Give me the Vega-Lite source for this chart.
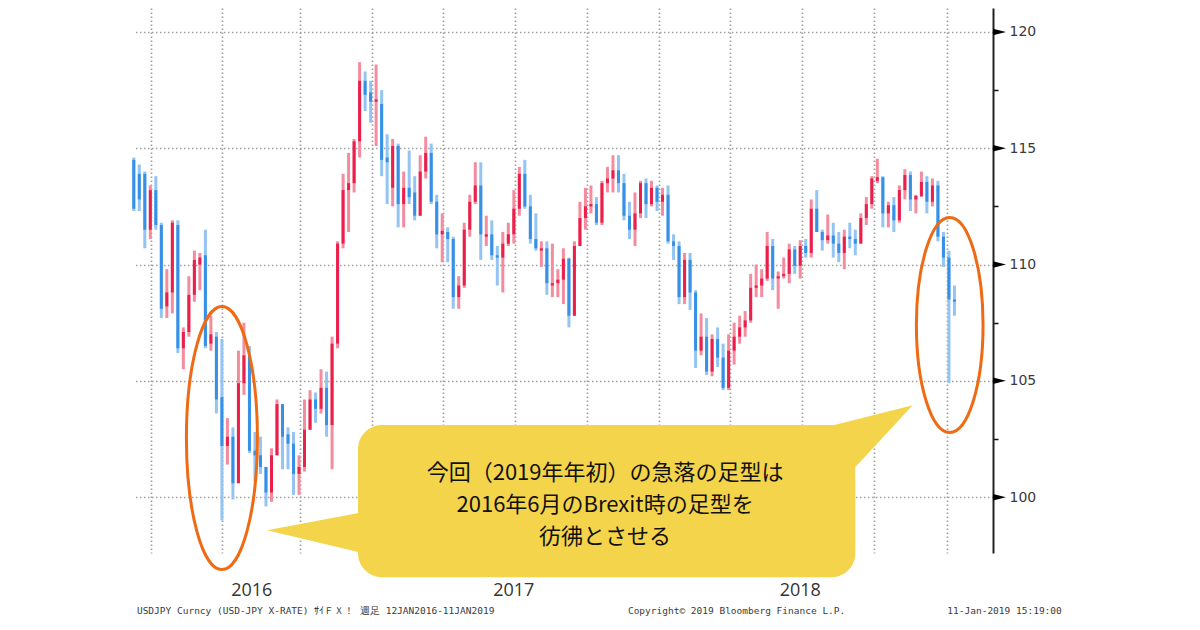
{
  "$schema": "https://vega.github.io/schema/vega-lite/v6.json",
  "width": 860,
  "height": 545,
  "autosize": {"type": "none"},
  "padding": {"left": 133, "top": 8, "right": 207, "bottom": 77},
  "background": "white",
  "config": {"view": {"stroke": null}, "font": "DejaVu Sans"},
  "datasets": {
    "fx": [
      {"d":"2016-03-04","o":114.5,"h":114.6,"l":112.3,"c":112.4},
      {"d":"2016-03-11","o":113.9,"h":114.3,"l":112.3,"c":112.8},
      {"d":"2016-03-18","o":113.9,"h":114.0,"l":110.7,"c":111.5},
      {"d":"2016-03-25","o":111.5,"h":113.4,"l":111.1,"c":113.2},
      {"d":"2016-04-01","o":113.2,"h":113.8,"l":111.5,"c":111.7},
      {"d":"2016-04-08","o":111.7,"h":111.8,"l":107.7,"c":108.1},
      {"d":"2016-04-15","o":108.2,"h":109.8,"l":107.7,"c":108.8},
      {"d":"2016-04-22","o":108.8,"h":111.9,"l":107.9,"c":111.8},
      {"d":"2016-04-29","o":111.7,"h":111.9,"l":106.2,"c":106.4},
      {"d":"2016-05-06","o":106.4,"h":107.3,"l":105.5,"c":107.1},
      {"d":"2016-05-13","o":107.1,"h":109.5,"l":106.9,"c":108.7},
      {"d":"2016-05-20","o":108.7,"h":110.6,"l":108.4,"c":110.2},
      {"d":"2016-05-27","o":110.0,"h":110.5,"l":108.9,"c":110.3},
      {"d":"2016-06-03","o":110.4,"h":111.5,"l":106.4,"c":106.5},
      {"d":"2016-06-10","o":106.6,"h":107.8,"l":106.3,"c":107.0},
      {"d":"2016-06-17","o":106.9,"h":107.1,"l":103.6,"c":104.2},
      {"d":"2016-06-24","o":104.3,"h":106.8,"l":99.0,"c":102.2},
      {"d":"2016-07-01","o":102.2,"h":103.4,"l":101.4,"c":102.6},
      {"d":"2016-07-08","o":102.6,"h":103.0,"l":99.9,"c":100.6},
      {"d":"2016-07-15","o":100.6,"h":106.3,"l":100.6,"c":104.9},
      {"d":"2016-07-22","o":104.9,"h":107.5,"l":104.4,"c":106.1},
      {"d":"2016-07-29","o":106.1,"h":106.5,"l":101.9,"c":102.0},
      {"d":"2016-08-05","o":102.0,"h":102.8,"l":100.7,"c":101.8},
      {"d":"2016-08-12","o":101.8,"h":102.6,"l":101.0,"c":101.3},
      {"d":"2016-08-19","o":101.3,"h":101.3,"l":99.6,"c":100.2},
      {"d":"2016-08-26","o":100.2,"h":102.1,"l":99.8,"c":101.8},
      {"d":"2016-09-02","o":101.8,"h":104.2,"l":101.8,"c":104.0},
      {"d":"2016-09-09","o":104.0,"h":104.0,"l":101.2,"c":102.6},
      {"d":"2016-09-16","o":102.7,"h":103.0,"l":101.2,"c":102.3},
      {"d":"2016-09-23","o":102.3,"h":102.8,"l":100.1,"c":101.0},
      {"d":"2016-09-30","o":101.0,"h":101.8,"l":100.1,"c":101.3},
      {"d":"2016-10-07","o":101.3,"h":104.2,"l":101.1,"c":102.9},
      {"d":"2016-10-14","o":102.9,"h":104.6,"l":102.9,"c":104.2},
      {"d":"2016-10-21","o":104.2,"h":104.5,"l":103.2,"c":103.8},
      {"d":"2016-10-28","o":103.8,"h":105.5,"l":103.6,"c":104.7},
      {"d":"2016-11-04","o":104.7,"h":105.4,"l":102.6,"c":103.1},
      {"d":"2016-11-11","o":103.1,"h":106.9,"l":101.2,"c":106.6},
      {"d":"2016-11-18","o":106.6,"h":111.0,"l":106.4,"c":110.9},
      {"d":"2016-11-25","o":110.9,"h":113.9,"l":110.7,"c":113.2},
      {"d":"2016-12-02","o":113.2,"h":114.8,"l":111.4,"c":113.5},
      {"d":"2016-12-09","o":113.5,"h":115.4,"l":113.1,"c":115.3},
      {"d":"2016-12-16","o":115.3,"h":118.7,"l":114.6,"c":117.9},
      {"d":"2016-12-23","o":117.9,"h":118.3,"l":116.6,"c":117.3},
      {"d":"2016-12-30","o":117.4,"h":117.9,"l":116.1,"c":117.0},
      {"d":"2017-01-06","o":117.0,"h":118.6,"l":115.1,"c":117.1},
      {"d":"2017-01-13","o":116.9,"h":117.5,"l":113.8,"c":114.5},
      {"d":"2017-01-20","o":114.6,"h":115.6,"l":112.6,"c":114.4},
      {"d":"2017-01-27","o":113.3,"h":115.4,"l":112.5,"c":115.1},
      {"d":"2017-02-03","o":115.1,"h":115.2,"l":111.6,"c":112.6},
      {"d":"2017-02-10","o":112.6,"h":114.0,"l":111.6,"c":113.3},
      {"d":"2017-02-17","o":113.3,"h":114.9,"l":112.6,"c":112.9},
      {"d":"2017-02-24","o":113.1,"h":113.8,"l":111.9,"c":112.1},
      {"d":"2017-03-03","o":112.1,"h":114.7,"l":112.1,"c":114.0},
      {"d":"2017-03-10","o":114.0,"h":115.5,"l":113.7,"c":114.8},
      {"d":"2017-03-17","o":114.8,"h":115.2,"l":112.6,"c":112.7},
      {"d":"2017-03-24","o":112.7,"h":113.0,"l":110.7,"c":111.3},
      {"d":"2017-03-31","o":111.3,"h":112.2,"l":110.1,"c":111.45},
      {"d":"2017-04-07","o":111.4,"h":111.6,"l":110.1,"c":111.1},
      {"d":"2017-04-14","o":111.1,"h":111.2,"l":108.1,"c":108.6},
      {"d":"2017-04-21","o":108.6,"h":109.5,"l":108.1,"c":109.1},
      {"d":"2017-04-28","o":109.1,"h":111.8,"l":109.0,"c":111.5},
      {"d":"2017-05-05","o":111.5,"h":113.0,"l":111.2,"c":112.7},
      {"d":"2017-05-12","o":112.7,"h":114.4,"l":112.6,"c":113.4},
      {"d":"2017-05-19","o":113.4,"h":114.4,"l":110.2,"c":111.3},
      {"d":"2017-05-26","o":111.2,"h":112.1,"l":110.8,"c":111.3},
      {"d":"2017-06-02","o":111.3,"h":111.9,"l":110.2,"c":110.4},
      {"d":"2017-06-09","o":110.4,"h":110.8,"l":109.1,"c":110.3},
      {"d":"2017-06-16","o":110.3,"h":111.4,"l":108.8,"c":110.9},
      {"d":"2017-06-23","o":110.9,"h":111.8,"l":110.8,"c":111.3},
      {"d":"2017-06-30","o":111.3,"h":113.2,"l":110.9,"c":112.4},
      {"d":"2017-07-07","o":112.4,"h":114.2,"l":112.1,"c":113.9},
      {"d":"2017-07-14","o":113.9,"h":114.5,"l":112.4,"c":112.5},
      {"d":"2017-07-21","o":112.5,"h":113.0,"l":110.9,"c":111.1},
      {"d":"2017-07-28","o":111.1,"h":112.2,"l":110.6,"c":110.7},
      {"d":"2017-08-04","o":110.6,"h":111.0,"l":109.9,"c":110.7},
      {"d":"2017-08-11","o":110.7,"h":111.0,"l":108.7,"c":109.2},
      {"d":"2017-08-18","o":109.1,"h":110.9,"l":108.6,"c":109.2},
      {"d":"2017-08-25","o":109.2,"h":109.8,"l":108.6,"c":109.35},
      {"d":"2017-09-01","o":109.35,"h":110.7,"l":108.3,"c":110.25},
      {"d":"2017-09-08","o":110.25,"h":110.3,"l":107.3,"c":107.8},
      {"d":"2017-09-15","o":107.8,"h":111.0,"l":107.8,"c":110.8},
      {"d":"2017-09-22","o":110.8,"h":112.7,"l":110.8,"c":112.0},
      {"d":"2017-09-29","o":112.0,"h":113.3,"l":111.5,"c":112.5},
      {"d":"2017-10-06","o":112.5,"h":113.4,"l":112.2,"c":112.6},
      {"d":"2017-10-13","o":112.6,"h":112.9,"l":111.7,"c":111.8},
      {"d":"2017-10-20","o":111.8,"h":113.6,"l":111.7,"c":113.5},
      {"d":"2017-10-27","o":113.5,"h":114.2,"l":113.1,"c":113.7},
      {"d":"2017-11-03","o":113.7,"h":114.7,"l":113.1,"c":114.05},
      {"d":"2017-11-10","o":114.05,"h":114.7,"l":113.1,"c":113.5},
      {"d":"2017-11-17","o":113.5,"h":113.9,"l":111.9,"c":112.1},
      {"d":"2017-11-24","o":112.1,"h":112.7,"l":111.1,"c":111.5},
      {"d":"2017-12-01","o":111.5,"h":113.1,"l":110.8,"c":112.2},
      {"d":"2017-12-08","o":112.2,"h":113.6,"l":112.0,"c":113.5},
      {"d":"2017-12-15","o":113.5,"h":113.7,"l":112.0,"c":112.6},
      {"d":"2017-12-22","o":112.6,"h":113.6,"l":112.5,"c":113.3},
      {"d":"2017-12-29","o":113.3,"h":113.4,"l":112.3,"c":112.7},
      {"d":"2018-01-05","o":112.7,"h":113.3,"l":112.1,"c":113.0},
      {"d":"2018-01-12","o":113.0,"h":113.4,"l":110.9,"c":111.0},
      {"d":"2018-01-19","o":111.0,"h":111.3,"l":110.2,"c":110.8},
      {"d":"2018-01-26","o":110.8,"h":111.0,"l":108.3,"c":108.6},
      {"d":"2018-02-02","o":108.6,"h":110.5,"l":108.3,"c":110.2},
      {"d":"2018-02-09","o":110.2,"h":110.5,"l":108.05,"c":108.8},
      {"d":"2018-02-16","o":108.8,"h":108.9,"l":105.55,"c":106.3},
      {"d":"2018-02-23","o":106.3,"h":107.9,"l":106.1,"c":106.9},
      {"d":"2018-03-02","o":106.9,"h":107.7,"l":105.25,"c":105.4},
      {"d":"2018-03-09","o":105.4,"h":107.0,"l":105.2,"c":106.8},
      {"d":"2018-03-16","o":106.8,"h":107.3,"l":105.6,"c":106.0},
      {"d":"2018-03-23","o":106.0,"h":106.6,"l":104.6,"c":104.7},
      {"d":"2018-03-30","o":104.7,"h":107.0,"l":104.6,"c":106.3},
      {"d":"2018-04-06","o":106.3,"h":107.5,"l":105.7,"c":106.9},
      {"d":"2018-04-13","o":106.9,"h":107.8,"l":106.6,"c":107.3},
      {"d":"2018-04-20","o":107.3,"h":108.0,"l":106.9,"c":107.6},
      {"d":"2018-04-27","o":107.6,"h":109.6,"l":107.5,"c":109.0},
      {"d":"2018-05-04","o":109.0,"h":110.0,"l":108.6,"c":109.1},
      {"d":"2018-05-11","o":109.1,"h":109.8,"l":108.6,"c":109.4},
      {"d":"2018-05-18","o":109.4,"h":111.4,"l":109.3,"c":110.8},
      {"d":"2018-05-25","o":110.8,"h":111.1,"l":108.9,"c":109.4},
      {"d":"2018-06-01","o":109.4,"h":109.7,"l":108.1,"c":109.5},
      {"d":"2018-06-08","o":109.5,"h":110.3,"l":109.4,"c":109.6},
      {"d":"2018-06-15","o":109.6,"h":110.9,"l":109.2,"c":110.65},
      {"d":"2018-06-22","o":110.65,"h":110.8,"l":109.6,"c":109.95},
      {"d":"2018-06-29","o":109.95,"h":111.05,"l":109.4,"c":110.8},
      {"d":"2018-07-06","o":110.8,"h":111.1,"l":110.3,"c":110.5},
      {"d":"2018-07-13","o":110.5,"h":112.8,"l":110.3,"c":112.4},
      {"d":"2018-07-20","o":112.4,"h":113.2,"l":111.4,"c":111.4},
      {"d":"2018-07-27","o":111.4,"h":111.5,"l":110.6,"c":111.05},
      {"d":"2018-08-03","o":111.05,"h":112.15,"l":110.9,"c":111.25},
      {"d":"2018-08-10","o":111.25,"h":111.8,"l":110.3,"c":110.9},
      {"d":"2018-08-17","o":110.9,"h":111.4,"l":110.1,"c":110.5},
      {"d":"2018-08-24","o":110.5,"h":111.5,"l":109.8,"c":111.2},
      {"d":"2018-08-31","o":111.2,"h":111.8,"l":110.7,"c":111.1},
      {"d":"2018-09-07","o":111.1,"h":111.5,"l":110.4,"c":110.9},
      {"d":"2018-09-14","o":110.9,"h":112.2,"l":110.9,"c":112.0},
      {"d":"2018-09-21","o":112.0,"h":112.9,"l":111.7,"c":112.6},
      {"d":"2018-09-28","o":112.6,"h":113.8,"l":112.4,"c":113.7},
      {"d":"2018-10-05","o":113.6,"h":114.55,"l":113.5,"c":113.75},
      {"d":"2018-10-12","o":113.75,"h":113.8,"l":111.6,"c":112.2},
      {"d":"2018-10-19","o":112.2,"h":112.7,"l":111.6,"c":112.55},
      {"d":"2018-10-26","o":112.55,"h":112.9,"l":111.4,"c":111.9},
      {"d":"2018-11-02","o":111.9,"h":113.4,"l":111.8,"c":113.2},
      {"d":"2018-11-09","o":113.2,"h":114.1,"l":112.8,"c":113.85},
      {"d":"2018-11-16","o":113.85,"h":114.0,"l":112.3,"c":112.8},
      {"d":"2018-11-23","o":112.8,"h":113.0,"l":112.2,"c":112.95},
      {"d":"2018-11-30","o":112.95,"h":114.0,"l":112.9,"c":113.55},
      {"d":"2018-12-07","o":113.55,"h":113.8,"l":112.2,"c":112.7},
      {"d":"2018-12-14","o":112.7,"h":113.7,"l":112.5,"c":113.4},
      {"d":"2018-12-21","o":113.4,"h":113.6,"l":111.0,"c":111.2},
      {"d":"2018-12-28","o":111.2,"h":111.4,"l":109.9,"c":110.3},
      {"d":"2019-01-04","o":110.3,"h":110.6,"l":104.9,"c":108.5},
      {"d":"2019-01-11","o":108.5,"h":109.1,"l":107.8,"c":108.4}
    ],
    "ticks": [{"v":100},{"v":105},{"v":110},{"v":115},{"v":120}],
    "years": [
      {"d":"2016-08-01","v":95.96,"t":"2016"},
      {"d":"2017-06-30","v":95.96,"t":"2017"},
      {"d":"2018-06-29","v":95.96,"t":"2018"}
    ],
    "footer": [
      {"d":"2016-03-08","v":95.1,"t":"USDJPY Curncy (USD-JPY X-RATE) ｻｲＦＸ！  週足 12JAN2016-11JAN2019"},
      {"d":"2017-11-22","v":95.1,"t":"Copyright© 2019 Bloomberg Finance L.P."},
      {"d":"2019-01-02","v":95.1,"t":"11-Jan-2019 15:19:00"}
    ]
  },
  "layer": [
    {
      "data": {"name": "fx"},
      "mark": {"type": "rule", "strokeWidth": 3},
      "encoding": {
        "x": {
          "field": "d", "type": "temporal", "title": null,
          "scale": {"domain": [{"year": 2016, "month": 3, "date": 3}, {"year": 2019, "month": 3, "date": 1}], "padding": 0, "nice": false},
          "axis": {
            "orient": "bottom",
            "values": [
              {"year": 2016, "month": 3, "date": 26},
              {"year": 2016, "month": 6, "date": 24},
              {"year": 2016, "month": 10, "date": 1},
              {"year": 2017, "month": 1, "date": 1},
              {"year": 2017, "month": 4, "date": 1},
              {"year": 2017, "month": 7, "date": 1},
              {"year": 2017, "month": 10, "date": 1},
              {"year": 2018, "month": 1, "date": 1},
              {"year": 2018, "month": 4, "date": 1},
              {"year": 2018, "month": 7, "date": 1},
              {"year": 2018, "month": 10, "date": 1},
              {"year": 2019, "month": 1, "date": 1}
            ],
            "grid": true, "gridColor": "#a0a0a0", "gridDash": [1.5, 2.5], "gridWidth": 1.7,
            "labels": false, "ticks": false, "domain": false, "title": null
          }
        },
        "y": {
          "field": "l", "type": "quantitative", "title": null,
          "scale": {"domain": [97.6, 121.03], "nice": false, "zero": false, "padding": 0},
          "axis": {
            "orient": "right",
            "values": [100, 102.5, 105, 107.5, 110, 112.5, 115, 117.5, 120],
            "grid": true, "gridColor": "#a0a0a0", "gridDash": [1.5, 2.5], "gridWidth": 1.7,
            "gridOpacity": {"condition": {"test": "datum.value % 5 === 0", "value": 1}, "value": 0},
            "labelExpr": "datum.value % 5 === 0 ? datum.label : ''",
            "tickSize": 5, "tickWidth": 1.5, "tickColor": "#111",
            "domainColor": "#222", "domainWidth": 2,
            "labelFont": "DejaVu Sans", "labelFontSize": 14, "labelColor": "#3a3a3a",
            "labelPadding": 11, "title": null
          }
        },
        "y2": {"field": "h"},
        "color": {"condition": {"test": "datum.c >= datum.o", "value": "#f48ca0"}, "value": "#94c4f2"}
      }
    },
    {
      "data": {"name": "fx"},
      "mark": {"type": "bar", "width": 3},
      "encoding": {
        "x": {"field": "d", "type": "temporal", "title": null},
        "y": {"field": "o", "type": "quantitative", "title": null},
        "y2": {"field": "c"},
        "color": {"condition": {"test": "datum.c >= datum.o", "value": "#ea1f4b"}, "value": "#3690e6"}
      }
    },
    {
      "data": {"values": [{"d": "2016-06-24", "v": 102.54}]},
      "mark": {
        "type": "point", "filled": false, "opacity": 1, "stroke": "#ef6a14", "strokeWidth": 3,
        "shape": "M0,-1 C0.1491,-1 0.27,-0.5523 0.27,0 C0.27,0.5523 0.1491,1 0,1 C-0.1491,1 -0.27,0.5523 -0.27,0 C-0.27,-0.5523 -0.1491,-1 0,-1 Z",
        "size": 69169
      },
      "encoding": {
        "x": {"field": "d", "type": "temporal", "title": null},
        "y": {"field": "v", "type": "quantitative", "title": null}
      }
    },
    {
      "data": {"values": [{"d": "2019-01-05", "v": 107.4}]},
      "mark": {
        "type": "point", "filled": false, "opacity": 1, "stroke": "#ef6a14", "strokeWidth": 3,
        "shape": "M0,-1 C0.1712,-1 0.31,-0.5523 0.31,0 C0.31,0.5523 0.1712,1 0,1 C-0.1712,1 -0.31,0.5523 -0.31,0 C-0.31,-0.5523 -0.1712,-1 0,-1 Z",
        "size": 46225
      },
      "encoding": {
        "x": {"field": "d", "type": "temporal", "title": null},
        "y": {"field": "v", "type": "quantitative", "title": null}
      }
    },
    {
      "data": {"values": [{"d": "2016-12-14", "v": 98.58}]},
      "mark": {
        "type": "point", "filled": true, "opacity": 1, "color": "#f4d44a", "strokeWidth": 0,
        "shape": "M0.3,-0.243 L-1,0 L0.3,0.312 Z",
        "size": 33124
      },
      "encoding": {
        "x": {"field": "d", "type": "temporal", "title": null},
        "y": {"field": "v", "type": "quantitative", "title": null}
      }
    },
    {
      "data": {"values": [{"d": "2018-08-27", "v": 102.45}]},
      "mark": {
        "type": "point", "filled": true, "opacity": 1, "color": "#f4d44a", "strokeWidth": 0,
        "shape": "M-0.2,-0.227 L1,-0.53 L0.14,0.4 L-0.2,0.4 Z",
        "size": 17424
      },
      "encoding": {
        "x": {"field": "d", "type": "temporal", "title": null},
        "y": {"field": "v", "type": "quantitative", "title": null}
      }
    },
    {
      "data": {"values": [{"d1": "2016-12-14", "d2": "2018-09-07", "v1": 103.1, "v2": 96.56}]},
      "mark": {"type": "rect", "cornerRadius": 24, "color": "#f4d44a"},
      "encoding": {
        "x": {"field": "d1", "type": "temporal", "title": null},
        "x2": {"field": "d2"},
        "y": {"field": "v1", "type": "quantitative", "title": null},
        "y2": {"field": "v2"}
      }
    },
    {
      "data": {"values": [{"d": "2017-10-24", "v": 101.04, "t": ["今回（2019年年初）の急落の足型は", "2016年6月のBrexit時の足型を", "彷彿とさせる"]}]},
      "mark": {"type": "text", "font": "Noto Sans CJK JP", "fontSize": 22, "lineHeight": 32, "align": "center", "baseline": "middle", "color": "#111111"},
      "encoding": {
        "x": {"field": "d", "type": "temporal", "title": null},
        "y": {"field": "v", "type": "quantitative", "title": null},
        "text": {"field": "t"}
      }
    },
    {
      "data": {"name": "years"},
      "mark": {"type": "text", "font": "Open Sans", "fontSize": 18, "align": "center", "baseline": "middle", "color": "#333333"},
      "encoding": {
        "x": {"field": "d", "type": "temporal", "title": null},
        "y": {"field": "v", "type": "quantitative", "title": null},
        "text": {"field": "t"}
      }
    },
    {
      "data": {"name": "footer"},
      "mark": {"type": "text", "font": "DejaVu Sans Mono", "fontSize": 9.5, "align": "left", "baseline": "middle", "color": "#3a3a3a"},
      "encoding": {
        "x": {"field": "d", "type": "temporal", "title": null},
        "y": {"field": "v", "type": "quantitative", "title": null},
        "text": {"field": "t"}
      }
    },
    {
      "data": {"name": "ticks"},
      "mark": {"type": "point", "filled": true, "opacity": 1, "color": "#000000", "shape": "M-1,-0.5 L1,0 L-1,0.5 Z", "size": 169, "xOffset": 6.5},
      "encoding": {
        "x": {"datum": {"year": 2019, "month": 3, "date": 1}, "type": "temporal", "title": null},
        "y": {"field": "v", "type": "quantitative", "title": null}
      }
    }
  ]
}
